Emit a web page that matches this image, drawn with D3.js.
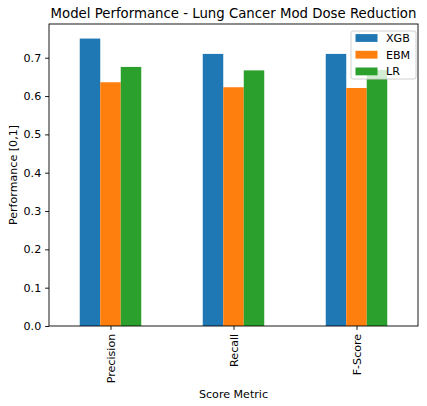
<!DOCTYPE html>
<html>
<head>
<meta charset="utf-8">
<script src="https://cdn.jsdelivr.net/npm/d3@7"></script>
<style>
  body { margin: 0; background: #fff; }
  svg text { font-family: "DejaVu Sans", sans-serif; fill: #000; }
</style>
</head>
<body>
<svg id="chart" width="427" height="406"></svg>
<script>
var categories = ['Precision', 'Recall', 'F-Score'];
var models = ['XGB', 'EBM', 'LR'];
var xgbValues = [0.750, 0.710, 0.710];
var ebmValues = [0.636, 0.623, 0.621];
var lrValues = [0.676, 0.667, 0.668];
var yTicks = [0.0, 0.1, 0.2, 0.3, 0.4, 0.5, 0.6, 0.7];
var colors = ['#1f77b4', '#ff7f0e', '#2ca02c'];

var series = [xgbValues, ebmValues, lrValues];

var margin = { top: 24, right: 9, bottom: 80, left: 49 };
var width = 427 - margin.left - margin.right;
var height = 406 - margin.top - margin.bottom;
var fs = 11.1;

var svg = d3.select('#chart');
var g = svg.append('g')
    .attr('transform', 'translate(' + margin.left + ',' + margin.top + ')');

// pandas style: positions 0..n-1, xlim -0.5..n-0.5, group width 0.5
var x = d3.scaleLinear().domain([-0.5, categories.length - 0.5]).range([0, width]);
var y = d3.scaleLinear().domain([0, 0.788]).range([height, 0]);
var barW = 0.5 / models.length;

series.forEach(function (vals, si) {
    g.selectAll('.bar-' + si)
        .data(vals)
        .enter().append('rect')
        .attr('class', 'bar-' + si)
        .attr('x', function (d, i) { return x(i - 0.25 + si * barW); })
        .attr('width', function () { return x(barW) - x(0); })
        .attr('y', function (d) { return y(d); })
        .attr('height', function (d) { return height - y(d); })
        .attr('fill', colors[si]);
});

// axes
var yAxis = g.append('g')
    .call(d3.axisLeft(y).tickValues(yTicks).tickFormat(d3.format('.1f')).tickSize(3.9).tickPadding(3.9));
var xAxis = g.append('g')
    .attr('transform', 'translate(0,' + height + ')')
    .call(d3.axisBottom(x).tickValues(d3.range(categories.length))
        .tickFormat(function (i) { return categories[i]; }).tickSize(3.9).tickPadding(3.9));

[xAxis, yAxis].forEach(function (a) {
    a.selectAll('text').style('font-size', fs + 'px');
    a.select('.domain').remove();
    a.selectAll('line').attr('stroke', '#000').attr('stroke-width', 0.9);
});

xAxis.selectAll('text')
    .attr('transform', 'rotate(-90)')
    .attr('text-anchor', 'end')
    .attr('x', -7.8)
    .attr('y', 0)
    .attr('dy', '0.35em');

// frame
g.append('rect')
    .attr('width', width)
    .attr('height', height)
    .attr('fill', 'none')
    .attr('stroke', '#000')
    .attr('stroke-width', 0.9);

// title and labels
svg.append('text')
    .attr('x', margin.left + width / 2)
    .attr('y', 18)
    .attr('text-anchor', 'middle')
    .style('font-size', '13.3px')
    .text('Model Performance - Lung Cancer Mod Dose Reduction');

svg.append('text')
    .attr('x', margin.left + width / 2)
    .attr('y', 398)
    .attr('text-anchor', 'middle')
    .style('font-size', fs + 'px')
    .text('Score Metric');

svg.append('text')
    .attr('transform', 'translate(17,' + (margin.top + height / 2) + ') rotate(-90)')
    .attr('text-anchor', 'middle')
    .style('font-size', fs + 'px')
    .text('Performance [0,1]');

// legend
var legend = g.append('g')
    .attr('transform', 'translate(302,7)');
legend.append('rect')
    .attr('width', 65)
    .attr('height', 48)
    .attr('rx', 2)
    .attr('fill', '#fff')
    .attr('fill-opacity', 0.8)
    .attr('stroke', '#ccc')
    .attr('stroke-width', 0.9);
models.forEach(function (m, i) {
    var row = legend.append('g').attr('transform', 'translate(4.5,' + (7 + i * 16.7) + ')');
    row.append('rect')
        .attr('y', -3.9)
        .attr('width', 22)
        .attr('height', 7.8)
        .attr('fill', colors[i]);
    row.append('text')
        .attr('x', 30.5)
        .attr('y', 0)
        .attr('dy', '0.35em')
        .style('font-size', fs + 'px')
        .text(m);
});
</script>
</body>
</html>
